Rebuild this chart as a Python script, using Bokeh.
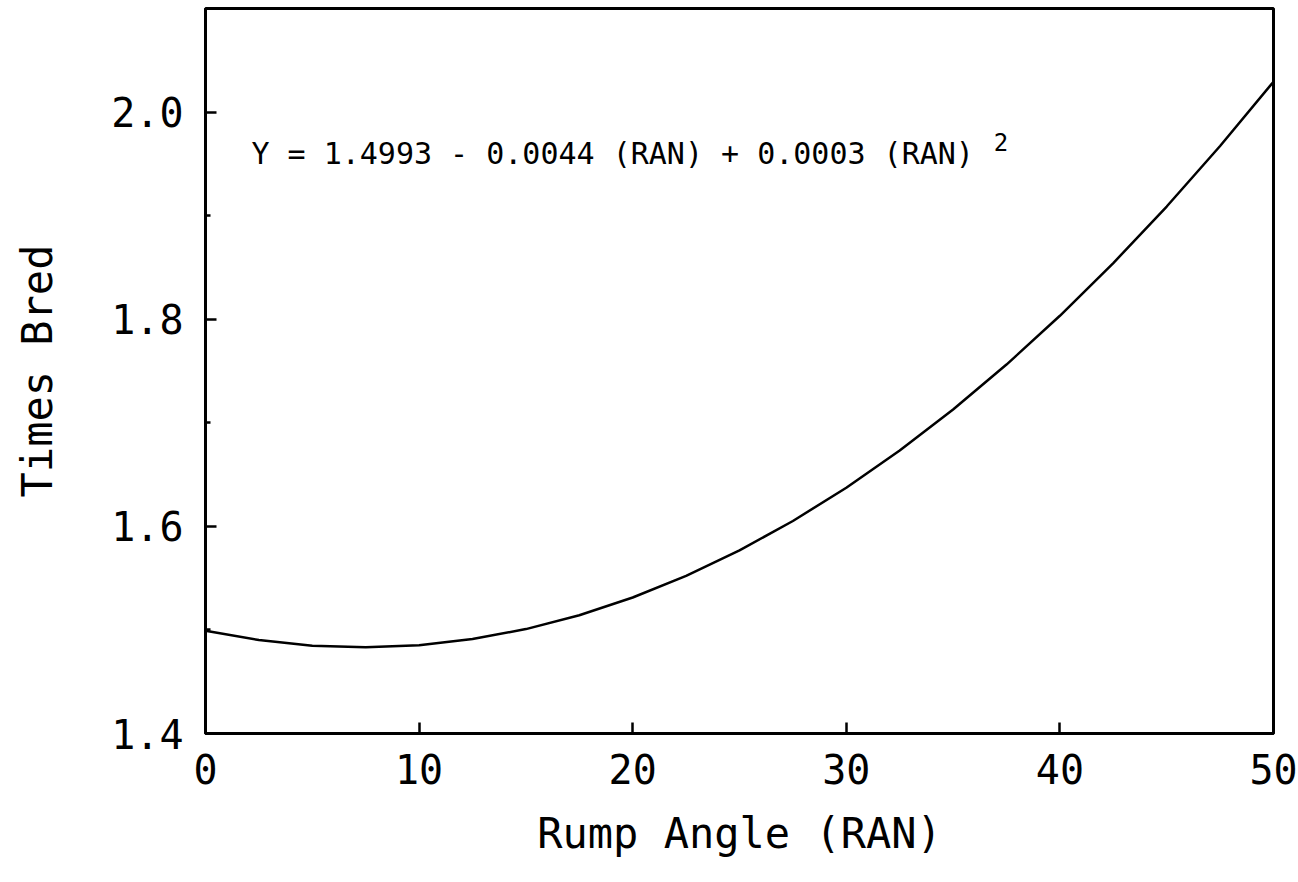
from bokeh.plotting import figure
from bokeh.models import FixedTicker, Range1d, Label, PrintfTickFormatter
from bokeh.embed import file_html
from bokeh.resources import INLINE

# Values
rump_angle = [0, 2.5, 5, 7.5, 10, 12.5, 15, 17.5, 20, 22.5, 25,
              27.5, 30, 32.5, 35, 37.5, 40, 42.5, 45, 47.5, 50]
times_bred = [1.4993, 1.4902, 1.4848, 1.4832, 1.4853, 1.4912, 1.5008,
              1.5142, 1.5313, 1.5522, 1.5768, 1.6052, 1.6373, 1.6732,
              1.7128, 1.7562, 1.8033, 1.8542, 1.9088, 1.9672, 2.0293]

x_ticks = [0, 10, 20, 30, 40, 50]
y_ticks = [1.4, 1.6, 1.8, 2.0]
y_minor_ticks = [1.5, 1.7, 1.9]
equation = "Y = 1.4993 - 0.0044 (RAN)  + 0.0003 (RAN)"
equation_power = "2"
x_title = "Rump Angle (RAN)"
y_title = "Times Bred"

FONT = "DejaVu Sans Mono"

p = figure(width=1298, height=882,
           x_range=Range1d(0, 50), y_range=Range1d(1.4, 2.1),
           output_backend="svg", toolbar_location=None,
           min_border_left=205, min_border_right=25,
           min_border_top=8, min_border_bottom=149)

p.grid.grid_line_color = None
p.background_fill_color = "white"
p.border_fill_color = "white"
p.outline_line_color = "black"
p.outline_line_width = 3

p.line(rump_angle, times_bred, line_color="black", line_width=2.5,
       line_join="round")

p.xaxis.ticker = FixedTicker(ticks=x_ticks, minor_ticks=[])
p.yaxis.ticker = FixedTicker(ticks=y_ticks, minor_ticks=y_minor_ticks)
p.yaxis.formatter = PrintfTickFormatter(format="%.1f")

for ax in (p.xaxis[0], p.yaxis[0]):
    ax.axis_line_color = "black"
    ax.axis_line_width = 3
    ax.major_tick_line_color = "black"
    ax.major_tick_line_width = 2.5
    ax.major_tick_in = 11
    ax.major_tick_out = 0
    ax.minor_tick_line_color = "black"
    ax.minor_tick_line_width = 2.5
    ax.minor_tick_in = 5
    ax.minor_tick_out = 0
    ax.major_label_text_font = FONT
    ax.major_label_text_font_size = "40px"
    ax.major_label_text_color = "black"
    ax.axis_label_text_font = FONT
    ax.axis_label_text_font_size = "42px"
    ax.axis_label_text_font_style = "normal"
    ax.axis_label_text_color = "black"

p.xaxis.axis_label = x_title
p.yaxis.axis_label = y_title
p.xaxis.major_label_standoff = 20
p.xaxis.axis_label_standoff = 22
p.yaxis.major_label_standoff = 22
p.yaxis.axis_label_standoff = 46

p.add_layout(Label(x=2.15, y=1.96, text=equation, text_baseline="middle",
                   text_font=FONT, text_font_size="30px", text_color="black"))
p.add_layout(Label(x=36.9, y=1.971, text=equation_power, text_baseline="middle",
                   text_font=FONT, text_font_size="24px", text_color="black"))

open("out.html", "w").write(file_html(p, INLINE))
